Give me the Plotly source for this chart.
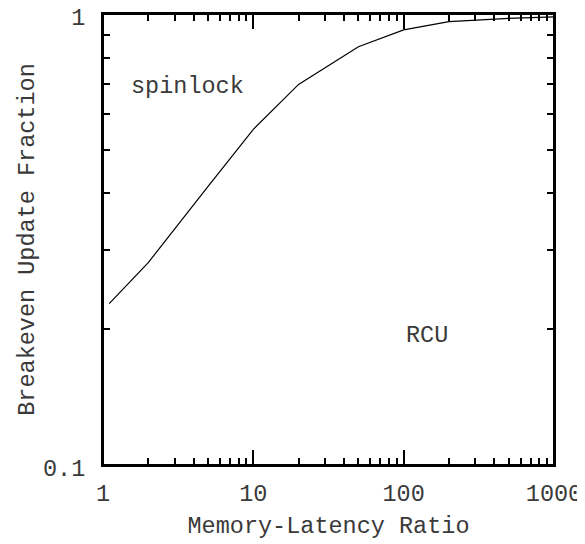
import math
import plotly.graph_objects as go

latency_ratio = [1.1, 2, 5, 10, 20, 50, 100, 200, 500, 1000]
breakeven_fraction = [0.228, 0.281, 0.415, 0.555, 0.698, 0.846, 0.922, 0.962, 0.978, 0.985]

x_major = [1, 10, 100, 1000]
x_major_labels = ["1", "10", "100", "1000"]
x_minor = [m * d for d in (1, 10, 100) for m in range(2, 10)]
y_major = [0.1, 1]
y_major_labels = ["0.1", "1"]
y_minor = [m / 10 for m in range(2, 10)]

labels = ["spinlock", "RCU"]
label_x = [1.5, 100]
label_y = [0.69, 0.194]

FONT = "Liberation Mono, Courier New, monospace"
TXT = "#3a3a3a"
FS = 23.5

fig = go.Figure()
fig.add_trace(go.Scatter(x=latency_ratio, y=breakeven_fraction, mode="lines",
                         line=dict(color="black", width=1.2), showlegend=False))

for t, lx, ly in zip(labels, label_x, label_y):
    fig.add_annotation(x=math.log10(lx), y=math.log10(ly), xref="x", yref="y", text=t,
                       showarrow=False, xanchor="left", yanchor="middle",
                       font=dict(family=FONT, size=FS, color=TXT))

# plot frame
fig.add_shape(type="rect", xref="paper", yref="paper", x0=0, y0=0, x1=1, y1=1,
              line=dict(color="black", width=2), layer="above")

axis_common = dict(showline=True, linecolor="black", linewidth=2, mirror="ticks",
                   ticks="inside", tickcolor="black", tickwidth=2, showgrid=False,
                   zeroline=False, automargin=False, ticklabeloverflow="allow",
                   tickfont=dict(family=FONT, size=FS, color=TXT))

fig.update_xaxes(type="log", range=[0, 3], tickmode="array", tickvals=x_major,
                 ticktext=x_major_labels, ticklen=15, ticklabelstandoff=6,
                 minor=dict(tickmode="array", tickvals=x_minor, ticks="inside", ticklen=7,
                            tickwidth=2, tickcolor="black", showgrid=False),
                 title=dict(text="Memory-Latency Ratio", font=dict(family=FONT, size=FS, color=TXT),
                            standoff=9),
                 **axis_common)
fig.update_yaxes(type="log", range=[-1, 0], tickmode="array", tickvals=y_major,
                 ticktext=y_major_labels, ticklen=15, ticklabelstandoff=11,
                 ticklabelshift=3,
                 minor=dict(tickmode="array", tickvals=y_minor, ticks="inside", ticklen=7,
                            tickwidth=2, tickcolor="black", showgrid=False),
                 title=dict(text="Breakeven Update Fraction", font=dict(family=FONT, size=FS, color=TXT),
                            standoff=2),
                 **axis_common)

fig.update_layout(width=577, height=536, plot_bgcolor="white", paper_bgcolor="white",
                  margin=dict(l=95, r=31, t=6, b=79))

fig.write_html("out.html")
